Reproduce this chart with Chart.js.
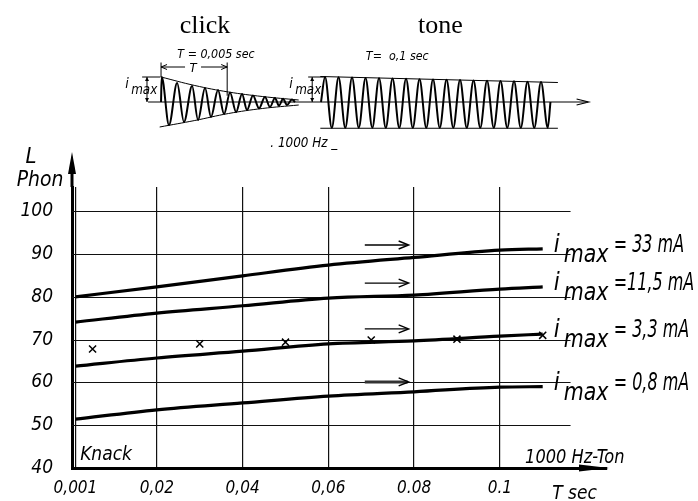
<!DOCTYPE html>
<html>
<head>
<meta charset="utf-8">
<script src="https://cdn.jsdelivr.net/npm/chart.js@4.4.1/dist/chart.umd.min.js"></script>
<style>
  html, body { margin: 0; padding: 0; background: #fff; }
  #wrap { position: relative; width: 698px; height: 501px; }
  #main, #wave { position: absolute; left: 0; top: 0; }
</style>
</head>
<body>
<div id="wrap">
  <canvas id="main" width="698" height="501"></canvas>
  <canvas id="wave" width="698" height="160"></canvas>
</div>
<script>
// ---- loudness L (phon) over duration T (sec) ----
const tPoints = [0.001, 0.02, 0.04, 0.06, 0.08, 0.1, 0.11];
const phon33 = [80, 82.3, 84.9, 87.4, 89.2, 90.9, 91.2];
const phon11 = [74.1, 76.2, 77.9, 79.7, 80.4, 81.8, 82.3];
const phon3 = [63.8, 65.7, 67.3, 69.0, 69.7, 70.8, 71.3];
const phon08 = [51.4, 53.6, 55.2, 56.8, 57.8, 58.9, 59.0];
const currentLabels = ['= 33 mA', '=11,5 mA', '= 3,3 mA', '= 0,8 mA'];

// measured points (x marks)
const crossT = [0.005, 0.03, 0.05, 0.07, 0.09, 0.11];
const crossPhon = [67.8, 69.0, 69.4, 69.9, 70.1, 71.0];

// level of the steady 1000 Hz tone, one arrow per current
const arrowT = [0.0685, 0.0785];
const tonePhon = [92.1, 83.2, 72.5, 60.1];

const xTicks = [0.001, 0.02, 0.04, 0.06, 0.08, 0.1];
const xTickLabels = ['0,001', '0,02', '0,04', '0,06', '0.08', '0.1'];
const yTicks = [40, 50, 60, 70, 80, 90, 100];
const gridEndT = 0.1165;

// ---- sketch of the two signals (time in ms, amplitude 1 = i_max) ----
const clickT = [0, 0.05, 0.59, 1.19, 1.70, 2.30, 2.74, 3.26, 3.70, 4.22, 4.67, 5.11, 5.56,
                6.0, 6.37, 6.81, 7.26, 7.7, 8.07, 8.44, 8.74, 9.04, 9.33, 9.7, 9.93];
const clickAmp = [0, 1.0, -0.92, 0.76, -0.8, 0.64, -0.72, 0.56, -0.6, 0.48, -0.48, 0.38, -0.4,
                  0.32, -0.32, 0.26, -0.25, 0.2, -0.2, 0.16, -0.15, 0.13, -0.12, 0.1, 0];
const clickUpperT = [0, 2.5, 5, 7.5, 10.2];
const clickUpper = [1.0, 0.66, 0.4, 0.22, 0.08];
const clickLowerT = [-0.1, 2.5, 5, 7.5, 10.2];
const clickLower = [-1.0, -0.74, -0.46, -0.26, -0.12];

const toneStart = 11.85;   // ms
const tonePeaks = [1.0, 0.99, 0.98, 0.96, 0.95, 0.94, 0.93, 0.91, 0.9, 0.89, 0.88, 0.86, 0.85, 0.84, 0.83, 0.81, 0.8];
const toneTroughs = [-1.03, -1.03, -1.03, -1.03, -1.03, -1.03, -1.03, -1.03, -1.03, -1.03, -1.03, -1.03, -1.03, -1.03, -1.03, -1.03, -1.03];
const toneEnvT = [11.8, 29.4];
const toneUpper = [1.02, 0.78];
const toneLower = [-1.05, -1.05];
const waveAxisT = [-0.96, 31.6];

const FONT = "'DejaVu Sans Condensed', 'DejaVu Sans', sans-serif";
const ital = size => 'italic ' + size + 'px ' + FONT;

// draw text squeezed horizontally (narrow drafting lettering)
function narrowText(ctx, text, x, y, sx) {
  ctx.save();
  ctx.translate(x, y);
  ctx.scale(sx, 1);
  ctx.fillText(text, 0, 0);
  ctx.restore();
}

function openHead(ctx, x, y, dir, len, half) {
  ctx.beginPath();
  ctx.moveTo(x - dir * len, y - half);
  ctx.lineTo(x, y);
  ctx.lineTo(x - dir * len, y + half);
  ctx.stroke();
}

function solidHead(ctx, x, y, ux, uy, len, half) {
  // tip at (x, y), pointing along (ux, uy)
  ctx.beginPath();
  ctx.moveTo(x, y);
  ctx.lineTo(x - ux * len - uy * half, y - uy * len + ux * half);
  ctx.lineTo(x - ux * len + uy * half, y - uy * len - ux * half);
  ctx.closePath();
  ctx.fill();
}

function imaxLabel(ctx, x, y, size, rest) {
  ctx.font = ital(size);
  ctx.fillText('i', x, y);
  narrowText(ctx, 'max', x + size * 0.42, y + size * 0.42, 0.95);
  if (rest) narrowText(ctx, rest, x + size * 2.5, y, 0.74);
}

// ---- main chart ----
const toXY = (ts, vs) => ts.map((t, i) => ({ x: t, y: vs[i] }));

const curves = [phon33, phon11, phon3, phon08].map((vals, i) => ({
  label: currentLabels[i],
  data: toXY(tPoints, vals),
  borderColor: '#000',
  borderWidth: 3.2,
  pointRadius: 0,
  tension: 0.4,
  cubicInterpolationMode: 'monotone',
  isCurve: true
}));

const arrows = tonePhon.map((v, i) => ({
  label: 'tone ' + currentLabels[i],
  data: toXY(arrowT, [v, v]),
  borderColor: i === 3 ? '#333' : '#000',
  borderWidth: i === 3 ? 3 : 1.4,
  pointRadius: 0,
  isArrow: true
}));

const crosses = {
  label: 'Knack',
  data: toXY(crossT, crossPhon),
  showLine: false,
  pointStyle: 'crossRot',
  pointRadius: 5,
  borderColor: '#000',
  borderWidth: 1.5
};

const mainDecor = {
  id: 'mainDecor',
  beforeDatasetsDraw(chart) {
    const { ctx, chartArea: a, scales: { x, y } } = chart;
    ctx.save();
    ctx.strokeStyle = '#111';
    ctx.lineWidth = 1.2;
    const xEnd = x.getPixelForValue(gridEndT);
    yTicks.slice(1).forEach(v => {
      const py = Math.round(y.getPixelForValue(v)) + 0.5;
      ctx.beginPath();
      ctx.moveTo(a.left, py);
      ctx.lineTo(xEnd, py);
      ctx.stroke();
    });
    ctx.restore();
  },
  afterDraw(chart) {
    const { ctx, chartArea: a, scales: { x, y } } = chart;
    ctx.save();
    ctx.fillStyle = '#000';
    ctx.strokeStyle = '#000';

    // axis arrows
    ctx.lineWidth = 3;
    ctx.beginPath();
    ctx.moveTo(a.left, a.top);
    ctx.lineTo(a.left, a.top - 22);
    ctx.stroke();
    solidHead(ctx, a.left, a.top - 35, 0, -1, 22, 4);
    solidHead(ctx, a.right + 2, a.bottom, 1, 0, 30, 3.5);

    // tone arrows
    ctx.lineWidth = 1.4;
    chart.data.datasets.forEach((ds, i) => {
      if (!ds.isArrow) return;
      const pts = chart.getDatasetMeta(i).data;
      const p = pts[pts.length - 1];
      openHead(ctx, p.x + 1, p.y, 1, 10, 4);
    });

    // current labels at the curve ends
    ctx.textAlign = 'left';
    ctx.textBaseline = 'alphabetic';
    chart.data.datasets.forEach((ds, i) => {
      if (!ds.isCurve) return;
      const pts = chart.getDatasetMeta(i).data;
      const p = pts[pts.length - 1];
      imaxLabel(ctx, p.x + 11, p.y + 3, 24, ds.label);
    });

    ctx.font = ital(20);
    narrowText(ctx, 'Knack', x.getPixelForValue(0.0021), y.getPixelForValue(41.9), 0.95);
    narrowText(ctx, '1000 Hz-Ton', x.getPixelForValue(0.1059), y.getPixelForValue(41.1), 0.9);
    narrowText(ctx, 'T sec', x.getPixelForValue(0.1122), a.bottom + 31, 0.95);

    ctx.font = ital(22);
    ctx.textAlign = 'center';
    ctx.fillText('L', a.left - 41, a.top - 24);
    narrowText(ctx, 'Phon', a.left - 32, a.top - 1, 0.95);
    ctx.restore();
  }
};

new Chart(document.getElementById('main'), {
  type: 'line',
  data: { datasets: [...curves, ...arrows, crosses] },
  options: {
    responsive: false,
    animation: false,
    events: [],
    layout: { padding: { top: 187, right: 91, left: 0, bottom: 0 } },
    plugins: { legend: { display: false }, tooltip: { enabled: false } },
    scales: {
      x: {
        type: 'linear',
        min: 0.0002,
        max: 0.125,
        afterBuildTicks: s => { s.ticks = xTicks.map(v => ({ value: v })); },
        afterFit: s => { s.height = 33; },
        grid: { color: '#111', lineWidth: 1.2, drawTicks: false },
        border: { color: '#000', width: 3 },
        ticks: {
          color: '#000',
          font: { family: FONT, size: 17, style: 'italic' },
          padding: 10,
          maxRotation: 0,
          autoSkip: false,
          callback: (v, i) => xTickLabels[i]
        }
      },
      y: {
        type: 'linear',
        min: 40,
        max: 105.65,
        afterBuildTicks: s => { s.ticks = yTicks.map(v => ({ value: v })); },
        afterFit: s => { s.width = 72; },
        grid: { display: false, drawTicks: false },
        border: { color: '#000', width: 3 },
        ticks: {
          color: '#000',
          font: { family: FONT, size: 19, style: 'italic' },
          padding: 19,
          callback: v => String(v)
        }
      }
    }
  },
  plugins: [mainDecor]
});

// ---- signal sketch above the chart ----
const toneT = [toneStart];
const toneAmp = [0];
tonePeaks.forEach((pk, k) => {
  toneT.push(toneStart + 0.3 + k, toneStart + 0.8 + k);
  toneAmp.push(pk, toneTroughs[k]);
});
toneT.push(toneStart + 17);
toneAmp.push(0);

const waveDecor = {
  id: 'waveDecor',
  afterDraw(chart) {
    const { ctx, scales: { x, y } } = chart;
    const y0 = y.getPixelForValue(0);
    const y1 = y.getPixelForValue(1);
    ctx.save();
    ctx.fillStyle = '#000';
    ctx.strokeStyle = '#000';
    ctx.lineWidth = 1;

    // titles
    ctx.textAlign = 'center';
    ctx.font = "26px 'Liberation Serif', 'Times New Roman', serif";
    ctx.fillText('click', x.getPixelForValue(3.25), 33);
    ctx.fillText('tone', x.getPixelForValue(20.7), 33);

    ctx.font = ital(13);
    narrowText(ctx, 'T = 0,005 sec', x.getPixelForValue(4.07), 58, 0.95);
    narrowText(ctx, 'T=  o,1 sec', x.getPixelForValue(17.5), 60, 0.95);

    // duration T of the click
    const xa = x.getPixelForValue(0), xb = x.getPixelForValue(4.9);
    const yd = y.getPixelForValue(1.4);
    ctx.beginPath();
    ctx.moveTo(xa, y.getPixelForValue(1.58)); ctx.lineTo(xa, y1);
    ctx.moveTo(xb, y.getPixelForValue(1.58)); ctx.lineTo(xb, y.getPixelForValue(0.25));
    ctx.moveTo(xa, yd); ctx.lineTo(xa + 24, yd);
    ctx.moveTo(xa + 40, yd); ctx.lineTo(xb, yd);
    ctx.stroke();
    openHead(ctx, xa, yd, -1, 6, 2.5);
    openHead(ctx, xb, yd, 1, 6, 2.5);
    ctx.fillText('T', (xa + xb) / 2 - 1, yd + 5);

    // i_max dimension marks
    [[-1.04, -1.4], [11.2, 10.9]].forEach(([t, t0]) => {
      const px = x.getPixelForValue(t);
      ctx.beginPath();
      ctx.moveTo(x.getPixelForValue(t0), y1);
      ctx.lineTo(x.getPixelForValue(t + 1.0), y1);
      ctx.moveTo(px, y1); ctx.lineTo(px, y0);
      ctx.stroke();
      solidHead(ctx, px, y1, 0, -1, 4, 2);
      solidHead(ctx, px, y0, 0, 1, 4, 2);
    });
    ctx.textAlign = 'left';
    imaxLabel(ctx, x.getPixelForValue(-2.65), y.getPixelForValue(0.56), 14, '');
    imaxLabel(ctx, x.getPixelForValue(9.5), y.getPixelForValue(0.56), 14, '');

    narrowText(ctx, '. 1000 Hz _', x.getPixelForValue(8.1), y.getPixelForValue(-1.8), 0.95);

    // time axis arrow
    ctx.lineWidth = 1.2;
    openHead(ctx, x.getPixelForValue(waveAxisT[1]) + 1, y0, 1, 12, 3);
    ctx.restore();
  }
};

new Chart(document.getElementById('wave'), {
  type: 'line',
  data: {
    datasets: [
      { label: 'click', data: toXY(clickT, clickAmp), borderWidth: 2, cubicInterpolationMode: 'monotone' },
      { label: 'tone', data: toXY(toneT, toneAmp), borderWidth: 2, cubicInterpolationMode: 'monotone' },
      { label: 'click upper', data: toXY(clickUpperT, clickUpper), borderWidth: 1, tension: 0.4 },
      { label: 'click lower', data: toXY(clickLowerT, clickLower), borderWidth: 1, tension: 0.4 },
      { label: 'tone upper', data: toXY(toneEnvT, toneUpper), borderWidth: 1 },
      { label: 'tone lower', data: toXY(toneEnvT, toneLower), borderWidth: 1 },
      { label: 'axis', data: toXY(waveAxisT, [0, 0]), borderWidth: 1.2 }
    ]
  },
  options: {
    responsive: false,
    animation: false,
    events: [],
    layout: { padding: 0 },
    plugins: { legend: { display: false }, tooltip: { enabled: false } },
    elements: {
      point: { radius: 0 },
      line: { borderColor: '#000', fill: false }
    },
    scales: {
      x: { type: 'linear', display: false, min: -11.93, max: 39.78 },
      y: { type: 'linear', display: false, min: -2.32, max: 4.08 }
    }
  },
  plugins: [waveDecor]
});
</script>
</body>
</html>
